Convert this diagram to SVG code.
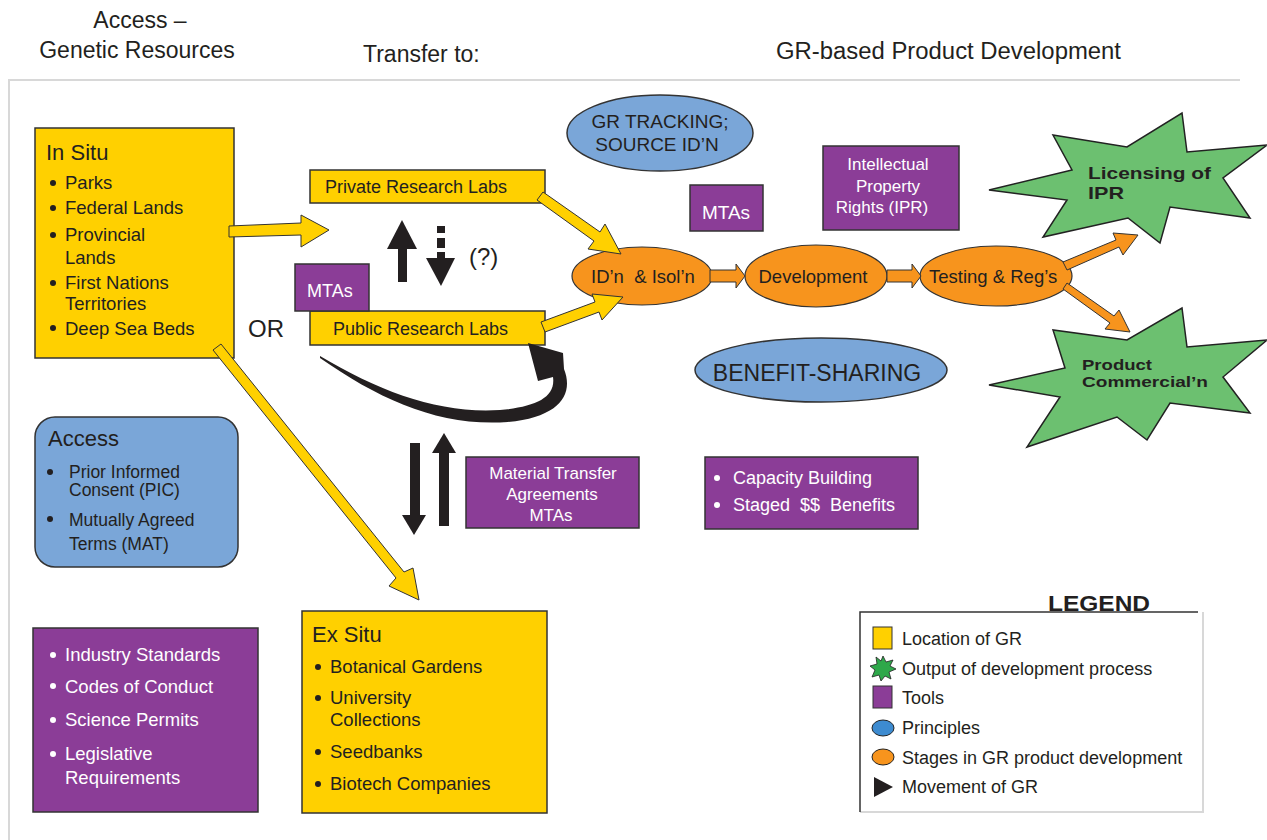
<svg xmlns="http://www.w3.org/2000/svg" width="1267" height="840" viewBox="0 0 1267 840">
<style>
text{font-family:"Liberation Sans",Arial,sans-serif;fill:#231f20}
.h{font-size:23px}
.t{font-size:22px}
.b{font-size:18.5px}
.w{fill:#fff}
.y{fill:#ffd000;stroke:#333;stroke-width:1.5}
.p{fill:#8b3d97;stroke:#333;stroke-width:1.5}
.bl{fill:#7aa6d8;stroke:#333;stroke-width:1.5}
.o{fill:#f7941d;stroke:#333;stroke-width:1.2}
.g{fill:#6cc070;stroke:#222;stroke-width:1.5}
.ya{fill:#ffd000;stroke:#333;stroke-width:1}
.oa{fill:#f7941d;stroke:#333;stroke-width:1}
.k{fill:#231f20}
.c{text-anchor:middle}
.bold{font-weight:bold}
.lg{font-size:18px}
</style>
<rect width="1267" height="840" fill="#fff"/>
<path d="M9,840 V80 H1240" fill="none" stroke="#d8d8d8" stroke-width="2"/>

<g id="headers">
<text class="h c" x="140" y="28">Access –</text>
<text class="h c" x="137" y="58">Genetic Resources</text>
<text class="h" x="363" y="62">Transfer to:</text>
<text class="h" x="776" y="59" textLength="345" lengthAdjust="spacingAndGlyphs">GR-based Product Development</text>
</g>

<g id="in-situ">
<rect class="y" x="35" y="128" width="199" height="230"/>
<text class="t" x="46" y="160">In Situ</text>
<g class="b">
<circle class="k" cx="53" cy="183" r="3"/><text x="65" y="189">Parks</text>
<circle class="k" cx="53" cy="208" r="3"/><text x="65" y="214">Federal Lands</text>
<circle class="k" cx="53" cy="235" r="3"/><text x="65" y="241">Provincial</text>
<text x="65" y="264">Lands</text>
<circle class="k" cx="53" cy="283" r="3"/><text x="65" y="289">First Nations</text>
<text x="65" y="310">Territories</text>
<circle class="k" cx="53" cy="328" r="3"/><text x="65" y="335">Deep Sea Beds</text>
</g>
</g>

<g id="or-label"><text x="248" y="337" style="font-size:24px">OR</text></g>

<g id="private-labs">
<rect class="y" x="310" y="170" width="235" height="33"/>
<text x="325" y="193" style="font-size:18px">Private Research Labs</text>
</g>

<g id="public-labs">
<rect class="y" x="310" y="311" width="235" height="34"/>
<text x="333" y="335" style="font-size:18px">Public Research Labs</text>
</g>

<g id="mtas-left">
<rect class="p" x="295" y="264" width="74" height="47"/>
<text class="w" x="307" y="297" style="font-size:18px">MTAs</text>
</g>

<g id="question"><text x="469" y="265" style="font-size:24px">(?)</text></g>

<g id="access">
<rect class="bl" x="35" y="417" width="203" height="150" rx="20"/>
<text class="t" x="48" y="446">Access</text>
<g style="font-size:17.5px">
<circle class="k" cx="50" cy="472" r="3"/><text x="69" y="478">Prior Informed</text>
<text x="69" y="496">Consent (PIC)</text>
<circle class="k" cx="50" cy="519" r="3"/><text x="69" y="526">Mutually Agreed</text>
<text x="69" y="550">Terms (MAT)</text>
</g>
</g>

<g id="tools-left">
<rect class="p" x="33" y="628" width="225" height="184"/>
<g class="b">
<circle fill="#fff" cx="53" cy="655" r="3"/><text class="w" x="65" y="661">Industry Standards</text>
<circle fill="#fff" cx="53" cy="686" r="3"/><text class="w" x="65" y="693">Codes of Conduct</text>
<circle fill="#fff" cx="53" cy="720" r="3"/><text class="w" x="65" y="726">Science Permits</text>
<circle fill="#fff" cx="53" cy="754" r="3"/><text class="w" x="65" y="760">Legislative</text>
<text class="w" x="65" y="784">Requirements</text>
</g>
</g>

<g id="ex-situ">
<rect class="y" x="302" y="611" width="245" height="202"/>
<text class="t" x="312" y="642">Ex Situ</text>
<g class="b">
<circle class="k" cx="318" cy="667" r="3"/><text x="330" y="673">Botanical Gardens</text>
<circle class="k" cx="318" cy="698" r="3"/><text x="330" y="704">University</text>
<text x="330" y="726">Collections</text>
<circle class="k" cx="318" cy="752" r="3"/><text x="330" y="758">Seedbanks</text>
<circle class="k" cx="318" cy="784" r="3"/><text x="330" y="790">Biotech Companies</text>
</g>
</g>

<g id="mta-agreements">
<rect class="p" x="466" y="457" width="173" height="71"/>
<g style="font-size:17px">
<text class="w c" x="553" y="479">Material Transfer</text>
<text class="w c" x="552" y="500">Agreements</text>
<text class="w c" x="551" y="521">MTAs</text>
</g>
</g>

<g id="benefits">
<rect class="p" x="705" y="457" width="213" height="72"/>
<g style="font-size:18px">
<circle fill="#fff" cx="717" cy="478" r="3"/><text class="w" x="733" y="484">Capacity Building</text>
<circle fill="#fff" cx="717" cy="505" r="3"/><text class="w" x="733" y="511" xml:space="preserve">Staged  $$  Benefits</text>
</g>
</g>

<g id="gr-tracking">
<ellipse class="bl" cx="660" cy="133" rx="93" ry="38"/>
<text class="c" x="660" y="128" style="font-size:19px">GR TRACKING;</text>
<text class="c" x="657" y="151" style="font-size:19px">SOURCE ID’N</text>
</g>

<g id="mtas-right">
<rect class="p" x="690" y="185" width="73" height="46"/>
<text class="w c" x="726" y="219" style="font-size:19px">MTAs</text>
</g>

<g id="ipr">
<rect class="p" x="823" y="146" width="136" height="84"/>
<g style="font-size:17px">
<text class="w c" x="888" y="170">Intellectual</text>
<text class="w c" x="888" y="192">Property</text>
<text class="w c" x="882" y="213">Rights (IPR)</text>
</g>
</g>

<g id="idn-isoln">
<ellipse class="o" cx="642" cy="276" rx="70" ry="29"/>
<text x="591" y="283" style="font-size:18.5px" xml:space="preserve">ID’n  &amp; Isol’n</text>
</g>

<g id="development">
<ellipse class="o" cx="816" cy="276" rx="71" ry="31"/>
<text class="c" x="813" y="283" style="font-size:18.5px">Development</text>
</g>

<g id="testing">
<ellipse class="o" cx="996" cy="276" rx="76" ry="30"/>
<text x="929" y="283" style="font-size:18.5px">Testing &amp; Reg’s</text>
</g>

<g id="benefit-sharing">
<ellipse class="bl" cx="821" cy="370" rx="126" ry="32"/>
<text class="c" x="817" y="381" style="font-size:23px">BENEFIT-SHARING</text>
</g>

<g id="licensing">
<polygon class="g" points="989,190 1072,170 1053,135 1127,147 1182,113 1187,152 1267,145 1223,178 1250,218 1170,207 1160,243 1128,218 1043,237 1067,200"/>
<text class="bold" x="1088" y="179" style="font-size:17px" textLength="123" lengthAdjust="spacingAndGlyphs">Licensing of</text>
<text class="bold" x="1088" y="199" style="font-size:17px" textLength="36" lengthAdjust="spacingAndGlyphs">IPR</text>
</g>

<g id="commercialization">
<polygon class="g" points="989,385 1065,368 1053,330 1127,340 1182,308 1187,347 1267,340 1223,377 1250,413 1170,403 1147,440 1117,417 1027,447 1060,397"/>
<text class="bold" x="1082" y="370" style="font-size:15px" textLength="70" lengthAdjust="spacingAndGlyphs">Product</text>
<text class="bold" x="1082" y="387" style="font-size:15px" textLength="126" lengthAdjust="spacingAndGlyphs">Commercial’n</text>
</g>

<g id="legend">
<path d="M1203,612 V812 H860" fill="none" stroke="#d8d8d8" stroke-width="2"/>
<path d="M860,812 V612 H1198" fill="none" stroke="#333" stroke-width="1.5"/>
<text class="bold" x="1048" y="611" style="font-size:22px" textLength="102" lengthAdjust="spacingAndGlyphs">LEGEND</text>
<rect x="873" y="627" width="19" height="22" fill="#ffd000" stroke="#333" stroke-width="1"/>
<text class="lg" x="902" y="645">Location of GR</text>
<polygon points="883,656 886,662 893,660 890,666 896,669 889,672 891,679 885,676 881,681 879,675 872,677 875,670 870,666 877,664 876,657 881,661" fill="#2ea84a" stroke="#222" stroke-width="0.8"/>
<text class="lg" x="902" y="675">Output of development process</text>
<rect x="873" y="686" width="19" height="22" fill="#8b3d97" stroke="#333" stroke-width="1"/>
<text class="lg" x="902" y="704">Tools</text>
<ellipse cx="883" cy="728" rx="11" ry="8" fill="#3d8bd0" stroke="#222" stroke-width="1"/>
<text class="lg" x="902" y="734">Principles</text>
<ellipse cx="883" cy="757" rx="11" ry="8" fill="#f7941d" stroke="#222" stroke-width="1"/>
<text class="lg" x="902" y="764">Stages in GR product development</text>
<polygon points="874,777 893,787 874,797" fill="#231f20"/>
<text class="lg" x="902" y="793">Movement of GR</text>
</g>

<g id="connectors">
<polygon class="ya" points="229,226 301,223 301,215 329,230 301,247 301,235 229,237"/>
<polygon class="ya" points="537,200 594,241 588,249 621,254 605,224 600,232 543,192"/>
<polygon class="ya" points="545,332 599,312 602,320 623,297 592,294 595,302 541,322"/>
<polygon class="ya" points="213,350 396,578 389,586 419,600 413,568 404,572 221,344"/>
<polygon class="oa" points="710,270 736,270 736,264 745,276 736,288 736,282 710,282"/>
<polygon class="oa" points="887,270 912,270 912,264 921,276 912,288 912,282 887,282"/>
<polygon class="oa" points="1067,270 1119,247 1123,255 1138,235 1113,233 1116,240 1063,262"/>
<polygon class="oa" points="1063,289 1110,323 1105,329 1130,332 1119,310 1114,316 1067,283"/>
<rect class="k" x="398" y="247" width="9" height="35"/>
<polygon class="k" points="387,249 402,220 417,249"/>
<rect class="k" x="437" y="226" width="8" height="7"/>
<rect class="k" x="437" y="238" width="8" height="10"/>
<rect class="k" x="437" y="252" width="8" height="7"/>
<polygon class="k" points="426,258 455,258 441,286"/>
<rect class="k" x="410" y="443" width="10" height="73"/>
<polygon class="k" points="402,515 426,515 414,535"/>
<rect class="k" x="439" y="451" width="10" height="75"/>
<polygon class="k" points="432,453 456,453 444,433"/>
<path class="k" d="M320,356 C380,392 440,414 500,410 C535,407 556,398 553,377 L538,381 L528,343 L563,353 L564,369 C574,394 560,417 508,422 C440,427 380,400 320,358 Z"/>
</g>
</svg>
